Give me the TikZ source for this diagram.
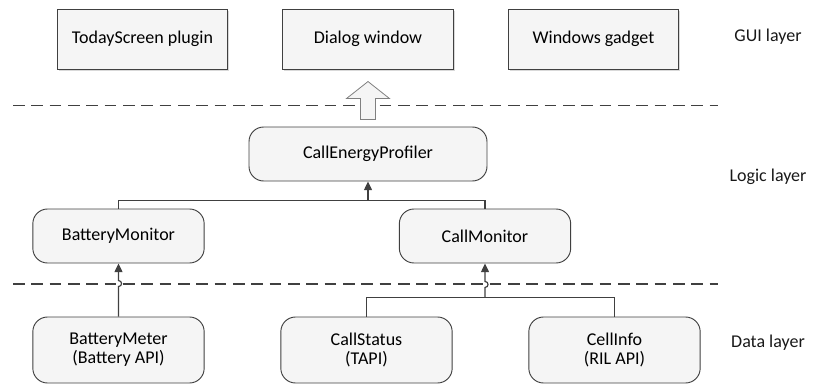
\documentclass[tikz,border=0pt]{standalone}
\usepackage{fontspec}
\setmainfont{Carlito}
\usetikzlibrary{calc,positioning,arrows.meta,shadows}
\definecolor{linegray}{HTML}{404040}
\definecolor{boxfill}{HTML}{F5F5F5}

\begin{document}
\begin{tikzpicture}[x=0.75pt,y=-0.75pt,
    font=\fontsize{13.5}{14.5}\selectfont,
    guibox/.style={draw=linegray, line width=0.7pt, fill=boxfill, minimum width=128pt, minimum height=45pt,
        drop shadow={shadow xshift=1.2pt, shadow yshift=-1.2pt, opacity=0.3}},
    modbox/.style={draw=linegray, line width=0.7pt, fill=boxfill, rounded corners=11pt, minimum width=128.5pt, minimum height=40.5pt, align=center},
    layer/.style={text=black!90},
    sep/.style={draw=linegray, line width=0.9pt, dash pattern=on 8.75pt off 5pt},
    line/.style={draw=linegray, line width=0.9pt},
    conn/.style={line, -{Triangle[length=6.5pt,width=6pt]}},
    hollow/.style={draw=gray, line width=0.6pt, fill=boxfill}]
    \useasboundingbox (0,0) rectangle (813,385);

    % GUI layer
    \node[guibox] (today) at (142.5,39) {TodayScreen plugin};
    \node[guibox] (dialog) at (368,39) {Dialog window};
    \node[guibox] (gadget) at (593.5,39) {Windows gadget};
    \node[layer] (gui) at (768,37) {GUI layer};

    \draw[sep] (13,105.5) -- (718,105.5);
    \draw[sep] (13,284) -- (718,284);

    % logic layer
    \node[modbox, minimum width=178.5pt] (cep) at (368,154) {CallEnergyProfiler};
    \node[layer] (logic) at (768,177) {Logic layer};
    \node[modbox] (bmon) at (118.5,236) {BatteryMonitor};
    \node[modbox] (cmon) at (485,236) {CallMonitor};

    % data layer
    \node[modbox, minimum height=49.5pt] (bmet) at (118.5,350) {BatteryMeter\\(Battery API)};
    \node[modbox, minimum height=49.5pt] (cstat) at (366.5,350) {CallStatus\\(TAPI)};
    \node[modbox, minimum height=49.5pt] (cinfo) at (614.5,350) {CellInfo\\(RIL API)};
    \node[layer] (data) at (768,343) {Data layer};

    % hollow arrow up to the GUI
    \draw[hollow] ($(cep.north)+(-7.5,-7)$) -- ++(0,-21) -- ++(-14,0) -- ++(21.5,-17)
        -- ++(21.5,17) -- ++(-14,0) -- ++(0,21) -- cycle;

    % connectors
    \coordinate (j1) at ($(cep.south)+(0,19)$);
    \coordinate (j2) at ($(cmon.south)+(0,34)$);
    \draw[conn] (bmon.north) |- (j1) -- (cep.south);
    \draw[line] (cmon.north) |- (j1);
    \draw[line] (cstat.north) |- (j2) -| (cinfo.north);
    \draw[conn] (j2) -- ++(0,-10) .. controls +(4,0) and +(4,0) .. ++(0,-6) -- (cmon.south);
    \draw[conn] (bmet.north) -- ++(0,-30) .. controls +(4,0) and +(4,0) .. ++(0,-6) -- (bmon.south);
\end{tikzpicture}
\end{document}
